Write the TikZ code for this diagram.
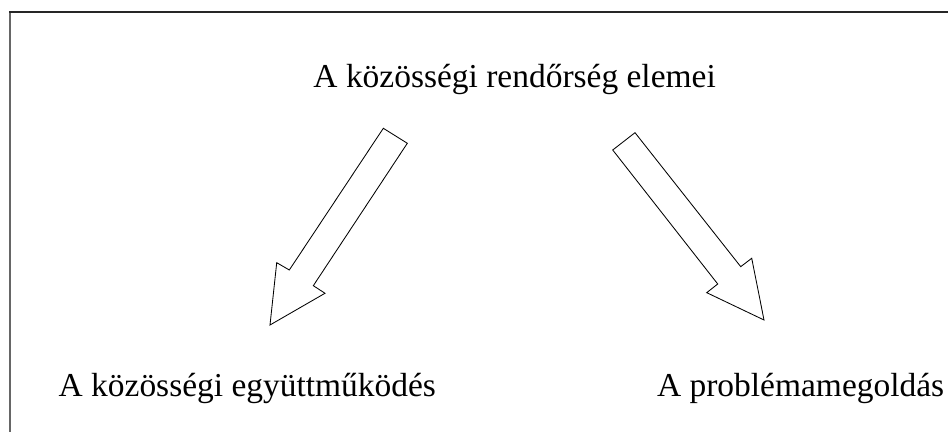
\documentclass[tikz,border=0pt]{standalone}
\usepackage{fontspec}
\setmainfont{Liberation Serif}
\usepackage{tikz}

\begin{document}
\begin{tikzpicture}
\tikzstyle{felirat} = [inner sep=0pt, anchor=base west, font=\fontsize{23.8}{28}\selectfont]
\tikzstyle{nyil} = [draw=black, line width=0.6pt, line join=miter]
\useasboundingbox (0,0) rectangle (23.7,10.8);
% keret
\draw[black!60, line width=1.3pt] (0.25,0) -- (0.25,10.5);
\draw[black!85, line width=1.3pt] (0.22,10.5) -- (23.7,10.5);
% feliratok
\node[felirat] (elemei) at (7.83,8.6) {A közösségi rendőrség elemei};
\node[felirat] (egyutt) at (1.46,0.875) {A közösségi együttműködés};
\node[felirat] (probl) at (16.42,0.875) {A problémamegoldás};
% nyilak
\draw[nyil] (9.583,7.593) -- (10.183,7.218) -- (7.833,3.658) -- (8.125,3.468)
  -- (6.75,2.675) -- (6.918,4.233) -- (7.233,4.05) -- cycle;
\draw[nyil] (15.875,7.483) -- (15.318,7.05) -- (17.943,3.7) -- (17.668,3.483)
  -- (19.1,2.8) -- (18.793,4.343) -- (18.518,4.133) -- cycle;
\end{tikzpicture}
\end{document}
